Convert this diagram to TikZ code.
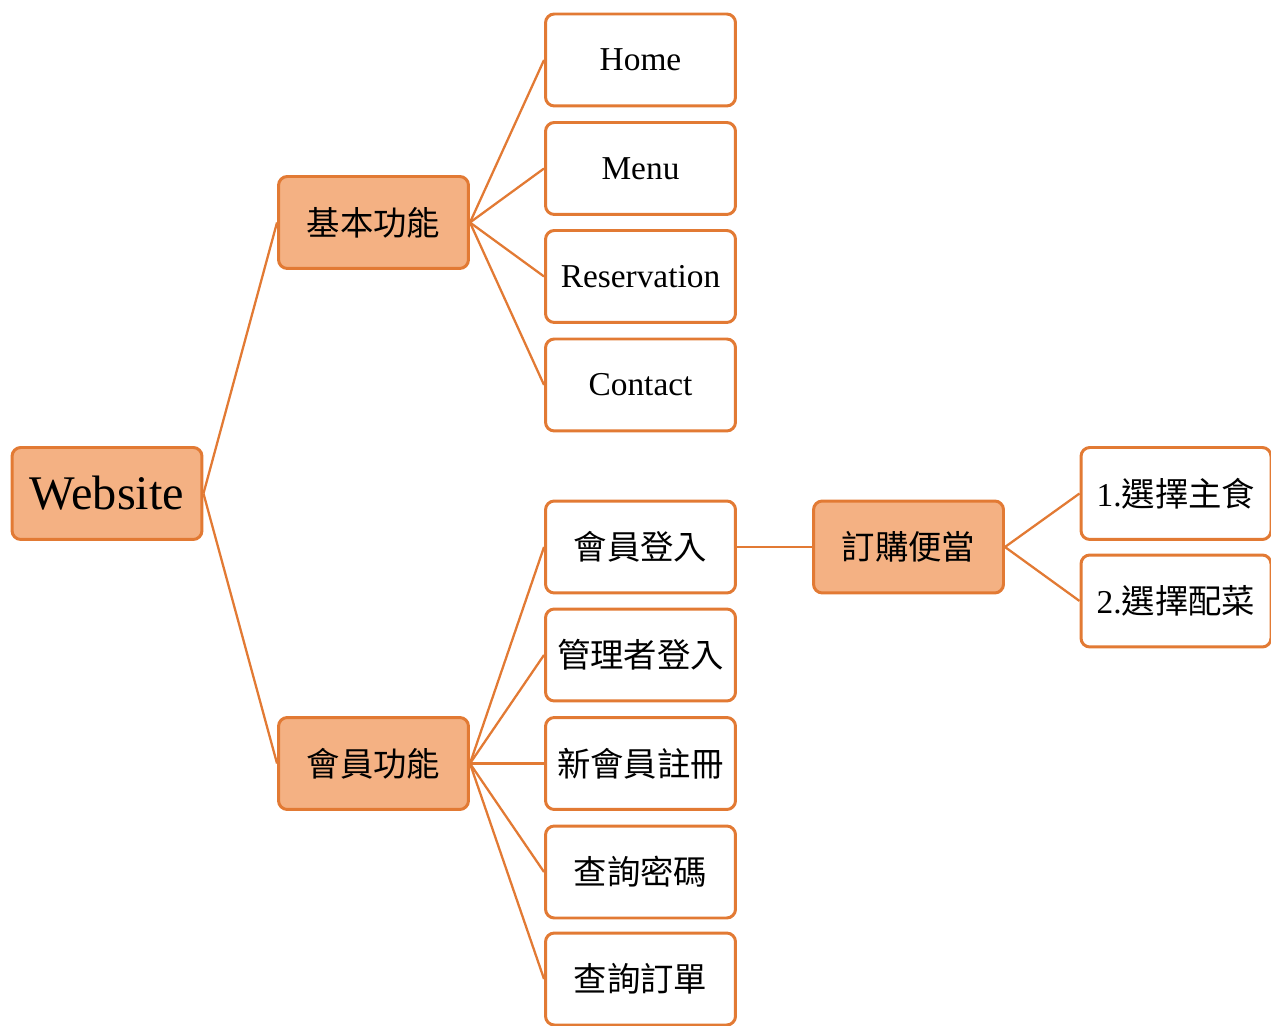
\documentclass[tikz,border=0pt]{standalone}
\usepackage{fontspec}
\setmainfont{Liberation Serif}
\newfontfamily\cjk{Noto Sans CJK TC}
\usepackage{tikz}
\usetikzlibrary{positioning}

\definecolor{boxline}{RGB}{226,122,52}
\definecolor{boxfill}{RGB}{244,177,131}

\tikzset{
    leaf/.style={draw=boxline, line width=1.7pt, rounded corners=5pt, fill=white,
        minimum width=3.8cm, minimum height=1.84cm, inner sep=0pt,
        font=\fontsize{19}{22}\selectfont},
    hub/.style={leaf, fill=boxfill, font=\fontsize{19}{22}\selectfont\cjk},
    cjkleaf/.style={leaf, font=\fontsize{19}{22}\selectfont\cjk},
    link/.style={draw=boxline, line width=1.3pt}
}

\begin{document}
\begin{tikzpicture}[x=0.02cm,y=-0.02cm]
                \useasboundingbox (0,0) rectangle (1271,1026);
                % root and first level
                \node[hub, font=\fontsize{27.5}{30}\selectfont] (site) at (107,493.5) {Website};
                \node[hub] (basic) at (373.5,222.5) {基本功能};
                \node[hub] (member) at (373.5,763.5) {會員功能};
                % basic pages
                \node[leaf] (home) at (640.5,60) {Home};
                \node[leaf] (menu) at (640.5,168.5) {Menu};
                \node[leaf] (reserve) at (640.5,276.5) {Reservation};
                \node[leaf] (contact) at (640.5,385) {Contact};
                % member pages
                \node[cjkleaf] (login) at (640.5,547) {會員登入};
                \node[cjkleaf] (admin) at (640.5,655) {管理者登入};
                \node[cjkleaf] (signup) at (640.5,763.5) {新會員註冊};
                \node[cjkleaf] (passwd) at (640.5,872) {查詢密碼};
                \node[cjkleaf] (orders) at (640.5,979) {查詢訂單};
                % ordering
                \node[hub] (order) at (908.5,547) {訂購便當};
                \node[leaf] (main) at (1176,493.5) {1.{\cjk 選擇主食}};
                \node[leaf] (side) at (1176,601) {2.{\cjk 選擇配菜}};
                % connectors
                \foreach \a/\b in {site/basic,site/member,basic/home,basic/menu,basic/reserve,basic/contact,
                    member/login,member/admin,member/signup,member/passwd,member/orders,
                    login/order,order/main,order/side}
                    \draw[link] (\a.east) -- (\b.west);
            \end{tikzpicture}
\end{document}
